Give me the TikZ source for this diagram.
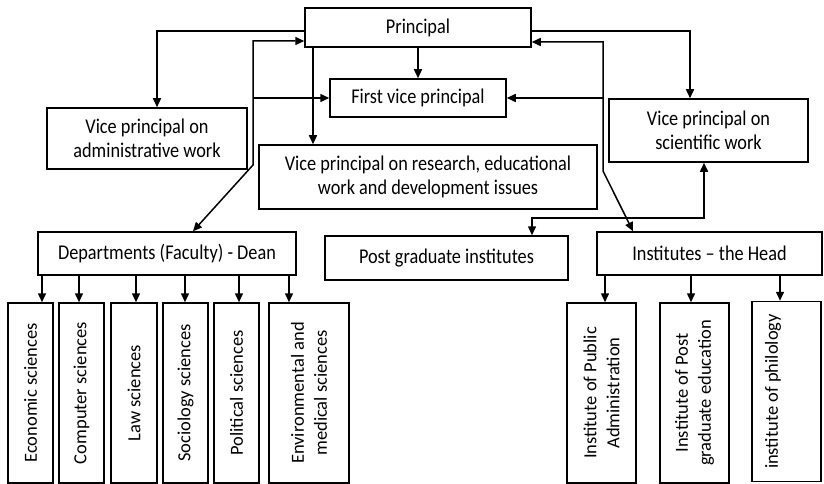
\documentclass[tikz,border=0pt]{standalone}
\usepackage{fontspec}
\setmainfont{Carlito}[FakeStretch=0.87]
\newfontfamily\uprightfont{Carlito}
\usetikzlibrary{arrows.meta,positioning,calc}
\tikzset{
  >=Stealth,
  every picture/.append style={line width=1.5pt},
  every node/.append style={font=\fontsize{21}{24}\selectfont},
}
\begin{document}
\begin{tikzpicture}[
  x=1pt, y=-1pt,
  box/.style={draw, align=center, inner sep=2pt},
  vbox/.style={draw, align=center, rotate=90, inner sep=2pt, minimum width=180pt, font=\uprightfont\fontsize{18.5}{23}\selectfont},
  arr/.style={-{Stealth[length=9pt, width=8pt, inset=0pt]}},
  both/.style={{Stealth[length=9pt, width=8pt, inset=0pt]}-{Stealth[length=9pt, width=8pt, inset=0pt]}}
]
\useasboundingbox (0,0) rectangle (824,484);

% Principal and vice principals
\node[box, minimum width=226pt, minimum height=39pt] (principal) at (418,27.5) {Principal};
\node[box, minimum width=176pt, minimum height=38pt] (first) at (418,98) {First vice principal};
\node[box, minimum width=200pt, minimum height=61pt] (admin) at (147,138.5) {Vice principal on\\administrative work};
\node[box, minimum width=338pt, minimum height=64pt] (research) at (428,177) {Vice principal on research, educational\\work and development issues};
\node[box, minimum width=199pt, minimum height=63pt] (science) at (708.5,130.5) {Vice principal on\\scientific work};

% Second level
\node[box, minimum width=258pt, minimum height=43pt] (dept) at (167,253.5) {Departments (Faculty) - Dean};
\node[box, minimum width=243pt, minimum height=44pt] (postgrad) at (446.5,258) {Post graduate institutes};
\node[box, minimum width=225pt, minimum height=43pt] (inst) at (709.5,253.5) {Institutes -- the Head};

% Faculties (vertical boxes)
\node[vbox, minimum height=45pt] (eco) at (30.5,393) {Economic sciences};
\node[vbox, minimum height=45pt] (comp) at (81.5,393) {Computer sciences};
\node[vbox, minimum height=46pt] (law) at (134,393) {Law sciences};
\node[vbox, minimum height=45pt] (soc) at (185.5,393) {Sociology sciences};
\node[vbox, minimum height=45pt] (pol) at (236.5,393) {Political sciences};
\node[vbox, minimum height=80pt] (env) at (309,393) {Environmental and\\medical sciences};

% Institutes (vertical boxes)
\node[vbox, minimum height=69pt] (ipa) at (601.5,393) {Institute of Public\\Administration};
\node[vbox, minimum height=69pt] (ipe) at (694.5,393) {Institute of Post\\graduate education};
\node[vbox, minimum height=69pt] (iph) at (786.5,391.5) {institute of philology\\ \strut};

% Links from the principal
\draw[arr] (principal.west |- 0,31) -| (admin.north -| 157,0);
\draw[arr] (principal.south) -- (first.north);
\draw[arr] (principal.south -| 313,0) -- (research.north -| 313,0);
\draw[arr] (principal.east |- 0,31) -| (science.north -| 690,0);

% Two-way links
\draw[both] (principal.west |- 0,41) -| (253,165) -- (dept.north -| 193,0);
\draw[arr] (first.west -| 253,0) -- (first.west);
\draw[both] (principal.east |- 0,42) -| (603,171) -- (inst.north -| 633,0);
\draw[arr] (first.east -| 603,0) -- (first.east);
\draw[both] (science.south -| 704,0) |- (532,218) -- (postgrad.north -| 532,0);

% Departments to faculties
\draw[arr] (dept.south -| 42,0) -- (eco.east -| 42,0);
\draw[arr] (dept.south -| 79,0) -- (comp.east -| 79,0);
\draw[arr] (dept.south -| 136,0) -- (law.east -| 136,0);
\draw[arr] (dept.south -| 185,0) -- (soc.east -| 185,0);
\draw[arr] (dept.south -| 239,0) -- (pol.east -| 239,0);
\draw[arr] (dept.south -| 289,0) -- (env.east -| 289,0);

% Institutes
\draw[arr] (inst.south -| 605,0) -- (ipa.east -| 605,0);
\draw[arr] (inst.south -| 691,0) -- (ipe.east -| 691,0);
\draw[arr] (inst.south -| 780,0) -- (iph.east -| 780,0);

\end{tikzpicture}
\end{document}
